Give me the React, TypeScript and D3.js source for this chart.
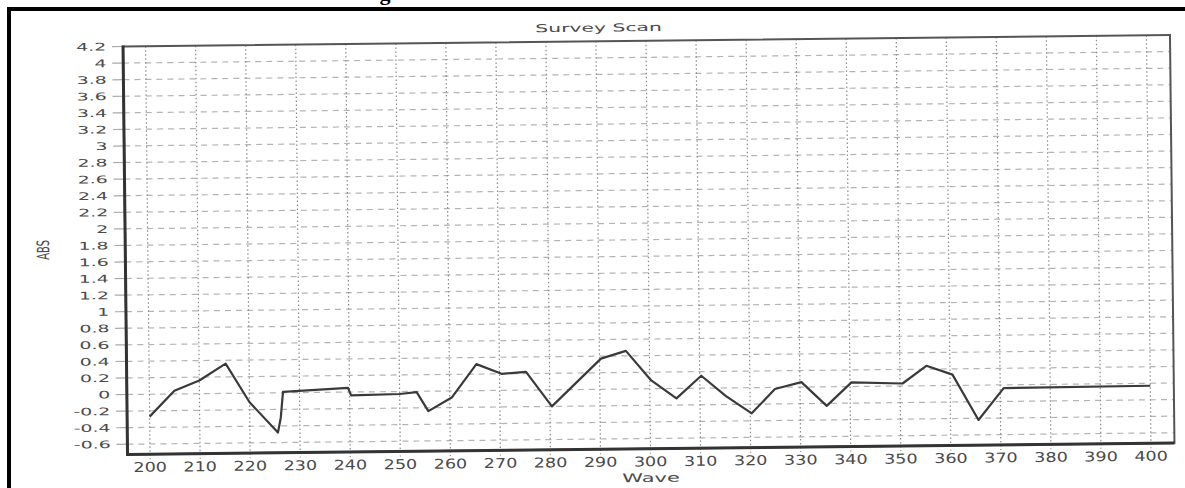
import React from "react";
import * as d3 from "d3";

const TITLE = "Survey Scan";
const X_LABEL = "Wave";
const Y_LABEL = "ABS";

const WAVE = [200, 205, 210, 215.3, 220, 225.6, 226.2, 226.7, 239.7, 240.3, 250, 253.4, 255.7, 260.4, 265.4, 270.4, 275.3, 280.4, 290.3, 295.3, 300.3, 305.3, 310.3, 315.2, 320.3, 325, 330.3, 335.3, 340.3, 350.5, 355.3, 360.5, 365.6, 370.7, 400];
const ABS = [-0.27, 0.04, 0.16, 0.36, -0.11, -0.48, -0.3, 0.01, 0.05, -0.04, -0.03, -0.01, -0.24, -0.08, 0.32, 0.2, 0.22, -0.2, 0.37, 0.46, 0.1, -0.12, 0.15, -0.1, -0.31, -0.02, 0.06, -0.23, 0.05, 0.03, 0.24, 0.13, -0.42, -0.04, -0.03];

const X_TICKS = [200, 210, 220, 230, 240, 250, 260, 270, 280, 290, 300, 310, 320, 330, 340, 350, 360, 370, 380, 390, 400];
const Y_TICKS = [4.2, 4, 3.8, 3.6, 3.4, 3.2, 3, 2.8, 2.6, 2.4, 2.2, 2, 1.8, 1.6, 1.4, 1.2, 1, 0.8, 0.6, 0.4, 0.2, 0, -0.2, -0.4, -0.6];

export default function App() {
  const W = 1185, H = 488;
  const L = 125.25, T = 40.75, PW = 1047, PH = 408;
  const cx = 648.75, cy = 244.75;
  const x = d3.scaleLinear().domain([195.5, 404.7]).range([L, L + PW]);
  const y = d3.scaleLinear().domain([-0.724, 4.2]).range([T + PH, T]);
  const line = d3.line<number>().x((_, i) => x(WAVE[i])).y((d) => y(d));
  const fmt = (v: number) => String(Math.round(v * 10) / 10);
  const font = "'DejaVu Sans', sans-serif";
  const txt = "#4a4a4a";

  return (
    <svg width={W} height={H} style={{ position: "absolute", left: 0, top: 0, background: "#fff" }}>
      <rect x={0} y={0} width={W} height={H} fill="#fff" />
      <text x={385} y={0} fontFamily="'Liberation Serif', serif" fontWeight="bold" fontSize={22} textAnchor="middle" fill="#000">g</text>
      <rect x={7} y={7} width={W - 7} height={4} fill="#000" />
      <rect x={7} y={7} width={4} height={H - 7} fill="#000" />
      <g transform={`rotate(-0.63, ${cx}, ${cy})`}>
        {/* horizontal dashed grid */}
        {Y_TICKS.filter((v) => v < 4.2).map((v) => (
          <line key={"h" + v} x1={L} x2={L + PW} y1={y(v)} y2={y(v)} stroke="#b4b4b4" strokeWidth={1.2} strokeDasharray="6,5" />
        ))}
        {/* y ticks outside */}
        {Y_TICKS.map((v) => (
          <line key={"yt" + v} x1={L - 11} x2={L} y1={y(v)} y2={y(v)} stroke="#aaa" strokeWidth={1.2} />
        ))}
        {/* vertical dotted grid */}
        {X_TICKS.map((v) => (
          <line key={"v" + v} x1={x(v)} x2={x(v)} y1={T} y2={T + PH + 5} stroke="#8a8a8a" strokeWidth={1.2} strokeDasharray="1.5,2.5" />
        ))}
        {/* frame */}
        <rect x={L} y={T} width={PW} height={PH} fill="none" stroke="#555" strokeWidth={2} />
        <line x1={L} x2={L} y1={T - 1} y2={T + PH + 1.5} stroke="#333" strokeWidth={3} />
        <line x1={L} x2={L + PW} y1={T + PH} y2={T + PH} stroke="#333" strokeWidth={3} />
        {/* data line */}
        <path d={line(ABS) || ""} fill="none" stroke="#3a3a3a" strokeWidth={2.2} strokeLinejoin="round" />
        {/* y labels */}
        {Y_TICKS.map((v) => (
          <text key={"yl" + v} transform={`translate(${L - 16.75},${y(v)}) scale(1.8,1)`} textAnchor="end" dy="0.36em" fontFamily={font} fontSize={10.5} fill={txt}>{fmt(v)}</text>
        ))}
        {/* x labels */}
        {X_TICKS.map((v) => (
          <text key={"xl" + v} transform={`translate(${x(v)},${T + PH + 17.5}) scale(1.3,1)`} textAnchor="middle" fontFamily={font} fontSize={13.5} fill={txt}>{v}</text>
        ))}
        <text transform={`translate(601,31) scale(1.85,1)`} textAnchor="middle" fontFamily={font} fontSize={11} fill={txt}>{TITLE}</text>
        <text transform={`translate(648.5,482) scale(1.75,1)`} textAnchor="middle" fontFamily={font} fontSize={12} fill={txt}>{X_LABEL}</text>
        <text transform={`translate(43,243.3) rotate(-90) scale(1,1.7)`} textAnchor="middle" dy="0.36em" fontFamily={font} fontSize={10} fill={txt}>{Y_LABEL}</text>
      </g>
    </svg>
  );
}
